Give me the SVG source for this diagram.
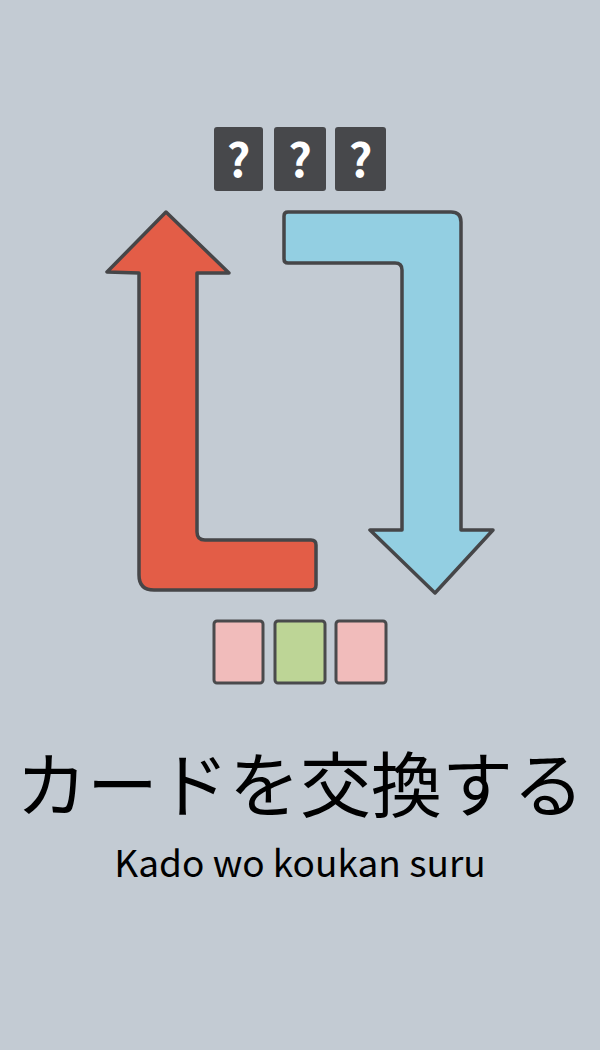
<svg xmlns="http://www.w3.org/2000/svg" width="600" height="1050" viewBox="0 0 600 1050">
<style>
.card{stroke:#4a4a4c;stroke-width:3}
.dark{fill:#47484b}
.pink{fill:#f1bcbb}
.green{fill:#bdd596}
.arrow{stroke:#464648;stroke-width:3.5;stroke-linejoin:round}
.q{font-family:"Noto Sans CJK JP","Noto Sans",sans-serif;font-weight:bold;font-size:46px;fill:#fff;text-anchor:middle}
.jp{font-family:"Noto Sans CJK JP",sans-serif;font-size:71px;fill:#000;text-anchor:middle}
.ro{font-family:"Noto Sans CJK JP","Noto Sans",sans-serif;font-size:37px;fill:#000;text-anchor:middle}
</style>
<rect width="600" height="1050" fill="#c3cbd3"/>
<g id="hidden-cards">
<rect class="dark" x="214" y="127" width="49" height="64" rx="3"/>
<rect class="dark" x="274" y="127" width="52" height="64" rx="3"/>
<rect class="dark" x="335" y="127" width="51" height="64" rx="3"/>
<text class="q" x="238.5" y="177">?</text>
<text class="q" x="300" y="177">?</text>
<text class="q" x="360.5" y="177">?</text>
</g>
<g id="connectors">
<path id="red-arrow" class="arrow" fill="#e35d47" d="M166,212 L107,272 L139,273 L139,575 Q139,590 154,590 L311,590 Q316,590 316,585 L316,545 Q316,540 311,540 L205,540 Q197,540 197,532 L197,273 L229,273 Z"/>
<path id="blue-arrow" class="arrow" fill="#93cfe2" d="M288,212 L451,212 Q461,212 461,222 L461,530 L493,530 L435,593 L370,530 L402,530 L402,270 Q402,263 395,263 L288,263 Q284,263 284,259 L284,216 Q284,212 288,212 Z"/>
</g>
<g id="open-cards">
<rect class="card pink" x="214" y="621" width="49" height="62" rx="3"/>
<rect class="card green" x="275" y="621" width="50" height="62" rx="3"/>
<rect class="card pink" x="336" y="621" width="50" height="62" rx="3"/>
</g>
<g id="title">
<text class="jp" x="300" y="811">カードを交換する</text>
<text class="ro" x="300" y="877">Kado wo koukan suru</text>
</g>
</svg>
